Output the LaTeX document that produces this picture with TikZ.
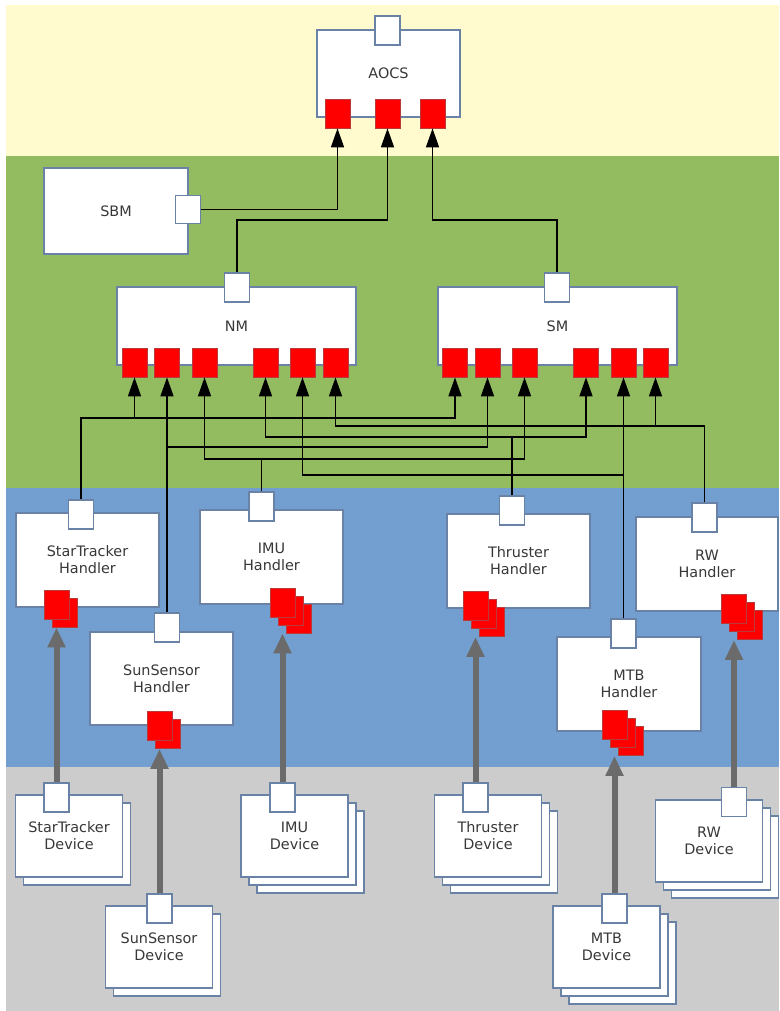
\documentclass[tikz,border=0pt]{standalone}
\usepackage{fontspec}
\setmainfont{DejaVu Sans}
\usepackage{tikz}
\usetikzlibrary{arrows.meta}
\definecolor{cream}{HTML}{FFFBCF}
\definecolor{leaf}{HTML}{93BB5F}
\definecolor{sky}{HTML}{729FCF}
\definecolor{stone}{HTML}{CCCCCC}
\definecolor{edge}{HTML}{6A82A6}
\definecolor{portred}{HTML}{FF0000}
\definecolor{portedge}{HTML}{B83A3A}
\definecolor{label}{HTML}{383838}
\definecolor{feedgray}{HTML}{6B6B6B}
\tikzset{block/.style={draw=edge,fill=white,line width=1.1pt,inner sep=0pt,align=center,text=label,font=\fontsize{14.4}{17}\selectfont}, handler/.style={block,minimum width=143pt,minimum height=94pt}, device/.style={block,minimum width=107pt,minimum height=82pt}, plug/.style={draw=edge,fill=white,line width=1.1pt,minimum width=25pt,minimum height=29pt,inner sep=0pt}, inport/.style={draw=portedge,fill=portred,line width=0.8pt,minimum width=25pt,minimum height=29pt,inner sep=0pt}, wire/.style={-{Triangle[length=19pt,width=13pt]},line width=1.6pt,draw=black}, feed/.style={-{Triangle[length=20pt,width=17pt]},line width=6pt,draw=feedgray}}

\begin{document}
\begin{tikzpicture}[x=1pt,y=-1pt]
\useasboundingbox (0,0) rectangle (779,1011);
\fill[cream] (6,5) rectangle (779,156);
\fill[leaf] (6,156) rectangle (779,488);
\fill[sky] (6,488) rectangle (779,767);
\fill[stone] (6,767) rectangle (779,1011);

\node[block,minimum width=143pt,minimum height=87pt] (aocs) at (388.5,73.5) {AOCS};
\node[plug] (aocsTop) at (387.5,30.5) {};
\node[inport] (aocsIn1) at (337.5,113.5) {};
\node[inport] (aocsIn2) at (387.5,113.5) {};
\node[inport] (aocsIn3) at (432.5,113.5) {};

\node[block,minimum width=144pt,minimum height=86pt] (sbm) at (116,211) {SBM};
\node[plug,minimum height=28pt] (sbmP) at (188,209.5) {};

\node[block,minimum width=239pt,minimum height=78pt] (nm) at (236.5,326) {NM};
\node[plug] (nmTop) at (237,287.5) {};
\node[inport] (nmIn1) at (134.5,362.5) {};
\node[inport] (nmIn2) at (167,362.5) {};
\node[inport] (nmIn3) at (204.5,362.5) {};
\node[inport] (nmIn4) at (265.5,362.5) {};
\node[inport] (nmIn5) at (302.5,362.5) {};
\node[inport] (nmIn6) at (335.5,362.5) {};

\node[block,minimum width=239pt,minimum height=78pt] (sm) at (557.5,326) {SM};
\node[plug] (smTop) at (557,287.5) {};
\node[inport] (smIn1) at (455,362.5) {};
\node[inport] (smIn2) at (487.5,362.5) {};
\node[inport] (smIn3) at (524.5,362.5) {};
\node[inport] (smIn4) at (586,362.5) {};
\node[inport] (smIn5) at (623.5,362.5) {};
\node[inport] (smIn6) at (655.5,362.5) {};

\node[handler] (hST) at (87.5,560) {StarTracker\\Handler};
\node[plug] (hSTp) at (81,514.5) {};
\node[inport] (hSTr2) at (64.5,612.5) {};
\node[inport] (hSTr) at (56.5,604.5) {};

\node[handler,minimum height=93pt] (hSS) at (161.5,678.5) {SunSensor\\Handler};
\node[plug] (hSSp) at (167,627.5) {};
\node[inport] (hSSr2) at (167.5,734) {};
\node[inport] (hSSr) at (159.5,726) {};

\node[handler] (hIMU) at (271.5,557) {IMU\\Handler};
\node[plug] (hIMUp) at (261.5,506.5) {};
\node[inport] (hIMUr3) at (298.5,618.5) {};
\node[inport] (hIMUr2) at (290.5,610.5) {};
\node[inport] (hIMUr) at (282.5,602.5) {};

\node[handler] (hThr) at (518.5,561) {Thruster\\Handler};
\node[plug] (hThrp) at (512,510.5) {};
\node[inport] (hThrr3) at (491.5,622) {};
\node[inport] (hThrr2) at (483.5,614) {};
\node[inport] (hThrr) at (475.5,606) {};

\node[handler,minimum width=142pt] (hRW) at (707,564) {RW\\Handler};
\node[plug] (hRWp) at (704.5,517.5) {};
\node[inport] (hRWr3) at (750,625) {};
\node[inport] (hRWr2) at (742,617) {};
\node[inport] (hRWr) at (734,609) {};

\node[handler,minimum width=144pt] (hMTB) at (629,684) {MTB\\Handler};
\node[plug] (hMTBp) at (623.5,633.5) {};
\node[inport] (hMTBr3) at (630.5,741) {};
\node[inport] (hMTBr2) at (622.5,733) {};
\node[inport] (hMTBr) at (614.5,725) {};

\node[device] (dST2) at (77,844) {};
\node[device] (dST) at (69,836) {StarTracker\\Device};
\node[plug] (dSTp) at (56.5,797.5) {};

\node[device] (dSS2) at (167,955) {};
\node[device] (dSS) at (159,947) {SunSensor\\Device};
\node[plug] (dSSp) at (159.5,908.5) {};

\node[device] (dIMU3) at (310.5,852) {};
\node[device] (dIMU2) at (302.5,844) {};
\node[device] (dIMU) at (294.5,836) {IMU\\Device};
\node[plug] (dIMUp) at (282.5,797.5) {};

\node[device] (dThr3) at (504,852) {};
\node[device] (dThr2) at (496,844) {};
\node[device] (dThr) at (488,836) {Thruster\\Device};
\node[plug] (dThrp) at (475.5,797.5) {};

\node[device] (dMTB3) at (622.5,963) {};
\node[device] (dMTB2) at (614.5,955) {};
\node[device] (dMTB) at (606.5,947) {MTB\\Device};
\node[plug] (dMTBp) at (614.5,908.5) {};

\node[device] (dRW3) at (725,857) {};
\node[device] (dRW2) at (717,849) {};
\node[device] (dRW) at (709,841) {RW\\Device};
\node[plug] (dRWp) at (734,802) {};

\coordinate (upLink) at (0,220);
\coordinate (busST) at (0,418);
\coordinate (busRW) at (0,426);
\coordinate (busThr) at (0,437);
\coordinate (busSS) at (0,447);
\coordinate (busIMU) at (0,459);
\coordinate (busMTB) at (0,475);

\draw[wire] (sbmP.east) -| (aocsIn1.south);
\draw[wire] (nmTop.north) |- (aocsIn2.south |- upLink) -- (aocsIn2.south);
\draw[wire] (smTop.north) |- (aocsIn3.south |- upLink) -- (aocsIn3.south);

\draw[wire] (hSTp.north) |- (nmIn1.south |- busST) -- (nmIn1.south);
\draw[wire] (nmIn1.south |- busST) -| (smIn1.south);
\draw[wire] (hSSp.north) -- (nmIn2.south);
\draw[wire] (hSSp.north |- busSS) -| (smIn2.south);
\draw[wire] (hIMUp.north) |- (nmIn3.south |- busIMU) -- (nmIn3.south);
\draw[wire] (hIMUp.north |- busIMU) -| (smIn3.south);
\draw[wire] (hThrp.north) |- (smIn4.south |- busThr) -- (smIn4.south);
\draw[wire] (hThrp.north |- busThr) -| (nmIn4.south);
\draw[wire] (hMTBp.north) -- (smIn5.south);
\draw[wire] (hMTBp.north |- busMTB) -| (nmIn5.south);
\draw[wire] (hRWp.north) |- (smIn6.south |- busRW) -- (smIn6.south);
\draw[wire] (smIn6.south |- busRW) -| (nmIn6.south);

\draw[feed] (dSTp.north) -- (hSTr2.south -| dSTp.north);
\draw[feed] (dSSp.north) -- (hSSr2.south -| dSSp.north);
\draw[feed] (dIMUp.north) -- (hIMUr3.south -| dIMUp.north);
\draw[feed] (dThrp.north) -- (hThrr3.south -| dThrp.north);
\draw[feed] (dMTBp.north) -- (hMTBr3.south -| dMTBp.north);
\draw[feed] (dRWp.north) -- (hRWr3.south -| dRWp.north);
\end{tikzpicture}
\end{document}
